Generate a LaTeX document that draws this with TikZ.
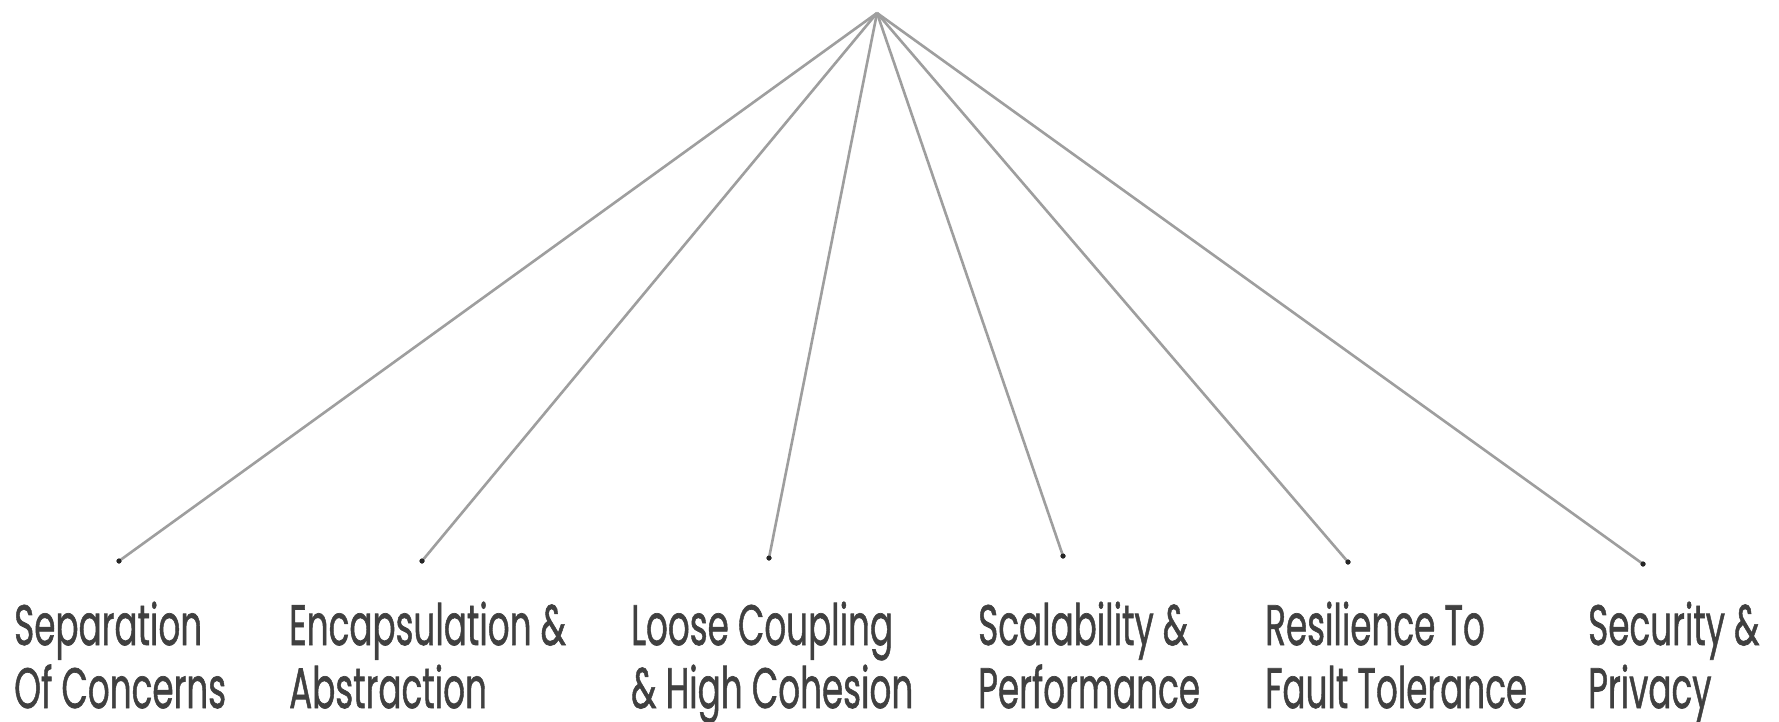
\documentclass[tikz,border=0pt]{standalone}
\usepackage{fontspec}
\setmainfont{Poppins}[FakeBold=1.2]
\usepackage{graphicx}
\definecolor{linegray}{HTML}{9E9E9E}
\definecolor{textgray}{HTML}{404040}
\newcommand{\lbltext}[2]{\scalebox{0.6}[1]{\fontsize{57}{63}\selectfont\vtop{\baselineskip=63pt\hbox{#1}\hbox{#2}}}}
\tikzset{
  enddot/.style={circle, fill=black!85, inner sep=0pt, minimum size=5pt},
  spoke/.style={draw=linegray, line width=2.6pt},
  lbl/.style={anchor=base west, inner sep=0pt, text=textgray}
}
\begin{document}
\begin{tikzpicture}[x=1pt,y=-1pt]
\useasboundingbox (0,0) rectangle (1779,721);
\fill[white] (0,0) rectangle (1779,721);
\coordinate (apex) at (877,13);
\node[enddot] (d1) at (119,561) {};
\node[enddot] (d2) at (422,561) {};
\node[enddot] (d3) at (769,558) {};
\node[enddot] (d4) at (1063,556) {};
\node[enddot] (d5) at (1348,562) {};
\node[enddot] (d6) at (1643,564) {};
\foreach \i in {1,...,6} {
  \draw[spoke] (apex) -- (d\i.center);
}
\foreach \i in {1,...,6} {
  \node[enddot] at (d\i) {};
}
\node[lbl] (t1) at (14,645) {\lbltext{Separation}{Of Concerns}};
\node[lbl] (t2) at (289,645) {\lbltext{Encapsulation \&}{Abstraction}};
\node[lbl] (t3) at (631,645) {\lbltext{Loose Coupling}{\& High Cohesion}};
\node[lbl] (t4) at (978,645) {\lbltext{Scalability \&}{Performance}};
\node[lbl] (t5) at (1265,645) {\lbltext{Resilience To}{Fault Tolerance}};
\node[lbl] (t6) at (1588,645) {\lbltext{Security \&}{Privacy}};
\end{tikzpicture}
\end{document}
